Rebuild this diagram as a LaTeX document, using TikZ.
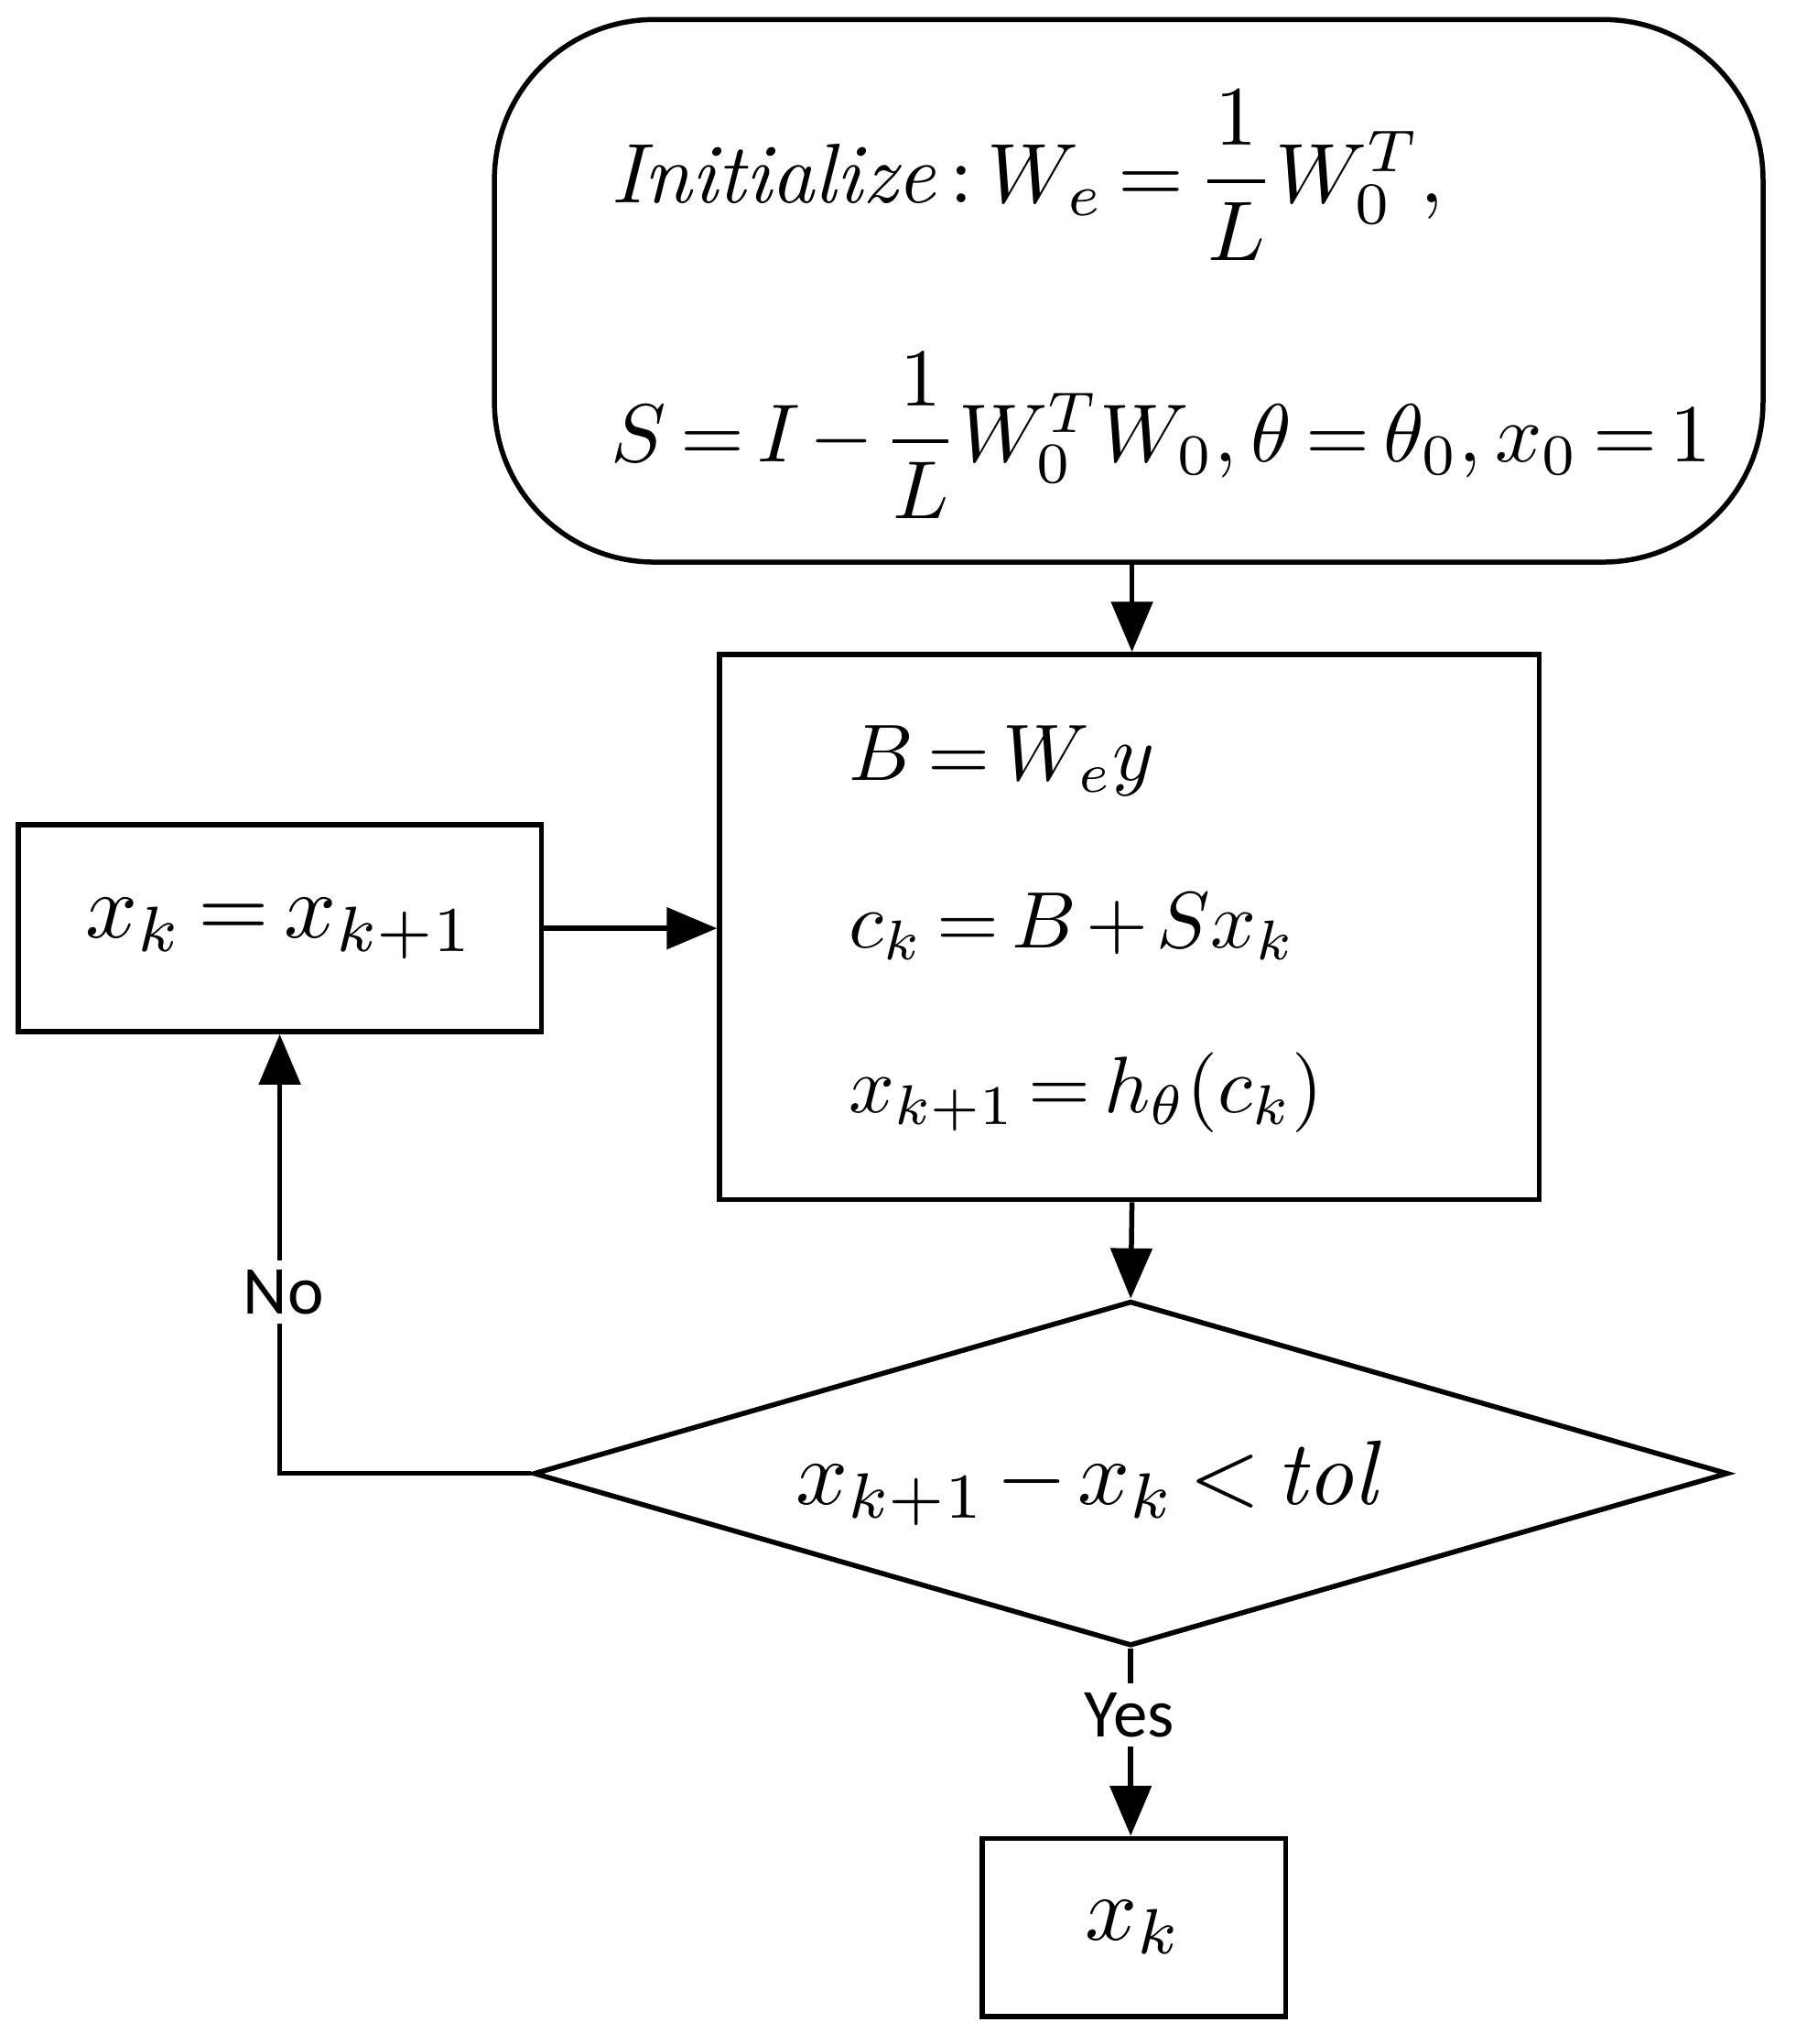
\documentclass[tikz,border=0pt]{standalone}
\usepackage{amsmath}
\usepackage{graphicx}
\usepackage{fontspec}
\newfontfamily\lab{Carlito}
\thickmuskip=3mu plus 1mu
\medmuskip=2mu plus 1mu
\usetikzlibrary{shapes.geometric,arrows.meta}
\begin{document}
\begin{tikzpicture}[x=0.02cm,y=-0.02cm,
  line width=2.2pt,
  arr/.style={-{Triangle[length=22pt,width=18pt]}},
  lbl/.style={font=\lab\fontsize{30}{36}\selectfont,fill=white,inner sep=4pt}]
\useasboundingbox (0,0) rectangle (1380,1571);
\node[draw,rounded corners=70pt,minimum width=975*0.02cm,minimum height=417*0.02cm] (init) at (867.5,223.5) {};
\node[anchor=west] (t1) at (462,135) {\scalebox{3.7}{$\mathit{Initialize}:W_e=\dfrac{1}{L}W_0^T,$}};
\node[anchor=west] (t2) at (462,335) {\scalebox{3.6}{$S=I-\dfrac{1}{L}W_0^TW_0,\theta=\theta_0,x_0=1$}};
\node[draw,minimum width=630*0.02cm,minimum height=419*0.02cm] (proc) at (868,712.5) {};
\node[anchor=west] (p1) at (645,585) {\scalebox{3.5}{$B=W_ey$}};
\node[anchor=west] (p2) at (645,712) {\scalebox{3.5}{$c_k=B+Sx_k$}};
\node[anchor=west] (p3) at (645,840) {\scalebox{3.5}{$x_{k+1}=h_\theta(c_k)$}};
\node[draw,minimum width=402*0.02cm,minimum height=159*0.02cm] (upd) at (215,713.5) {\scalebox{4}{$x_k=x_{k+1}$}};
\node[draw,diamond,aspect=3.46,inner sep=0pt,minimum width=918*0.02cm,minimum height=265*0.02cm] (dec) at (869,1132.5) {};
\node at (835,1140) {\scalebox{4}{$x_{k+1}-x_k<\mathit{tol}$}};
\node[draw,minimum width=233*0.02cm,minimum height=137*0.02cm] (out) at (871.5,1481.5) {\scalebox{4}{$x_k$}};
\draw[arr] (init.south -| 870,0) -- (proc.north -| 870,0);
\draw[arr] (upd.east) -- (proc.west |- upd.east);
\draw[arr] (proc.south -| 870,0) -- (dec.north);
\draw[arr] (dec.west) -| (upd.south);
\draw[arr] (dec.south) -- (out.north -| dec.south);
\node[lbl] at (218,993) {No};
\node[lbl] at (868,1318) {Yes};
\end{tikzpicture}
\end{document}
